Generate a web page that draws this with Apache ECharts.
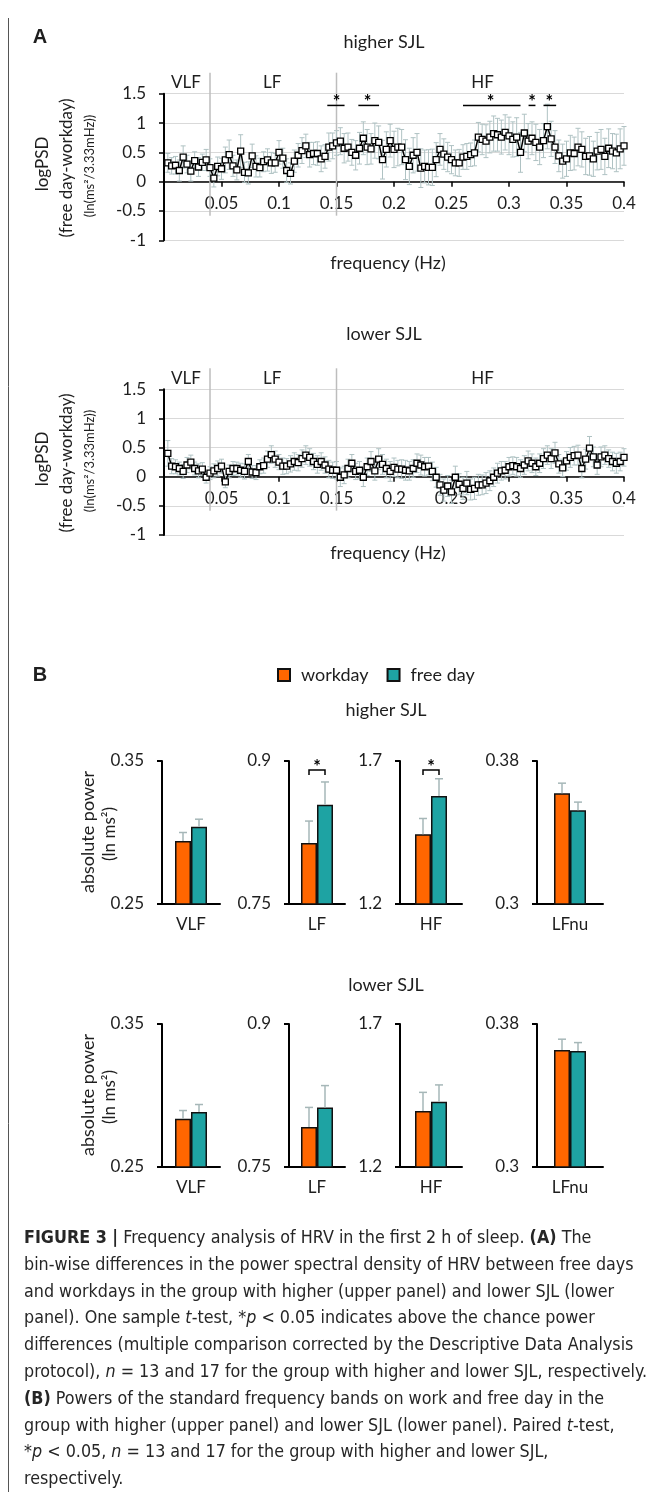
<!DOCTYPE html>
<html><head><meta charset="utf-8">
<script src="https://cdn.jsdelivr.net/npm/echarts@6/dist/echarts.min.js"></script>
<style>
html,body{margin:0;padding:0;background:#fff;}
#chart{position:absolute;left:0;top:0;width:659px;height:1498px;}
#caption{position:absolute;left:24px;top:1224px;font-family:"Liberation Sans Narrow","DejaVu Sans Condensed","Roboto",sans-serif;font-size:17px;color:#262626;line-height:26.8px;transform-origin:0 0;white-space:nowrap;}
#caption div span{display:inline-block;}
</style></head><body>
<div id="chart"></div>
<div id="caption">
<div><span><b>FIGURE 3 |</b> Frequency analysis of HRV in the first 2 h of sleep. <b>(A)</b> The</span></div>
<div><span>bin-wise differences in the power spectral density of HRV between free days</span></div>
<div><span>and workdays in the group with higher (upper panel) and lower SJL (lower</span></div>
<div><span>panel). One sample <i>t</i>-test, *<i>p</i> &lt; 0.05 indicates above the chance power</span></div>
<div><span>differences (multiple comparison corrected by the Descriptive Data Analysis</span></div>
<div><span id="longest">protocol), <i>n</i> = 13 and 17 for the group with higher and lower SJL, respectively.</span></div>
<div><span><b>(B)</b> Powers of the standard frequency bands on work and free day in the</span></div>
<div><span>group with higher (upper panel) and lower SJL (lower panel). Paired <i>t</i>-test,</span></div>
<div><span>*<i>p</i> &lt; 0.05, <i>n</i> = 13 and 17 for the group with higher and lower SJL,</span></div>
<div><span>respectively.</span></div>
</div>
<script>
// ---------------- DATA ----------------
// Panel A: bin-wise logPSD difference (free day - workday), 3.33 mHz bins, 0.0033..0.4 Hz
const binWidthHz = 1 / 300;
const higherSJL_logPSD = [
  0.32,0.27,0.28,0.19,0.42,0.30,0.18,0.36,0.25,0.33, 0.37,0.24,0.06,0.26,0.22,0.37,0.46,0.27,0.20,0.52,
  0.16,0.15,0.44,0.26,0.24,0.34,0.37,0.32,0.32,0.50, 0.40,0.19,0.14,0.35,0.45,0.53,0.61,0.46,0.48,0.48,
  0.39,0.43,0.59,0.61,0.66,0.69,0.57,0.59,0.50,0.45, 0.57,0.74,0.59,0.56,0.70,0.67,0.375,0.55,0.70,0.55,
  0.59,0.59,0.375,0.26,0.45,0.50,0.23,0.26,0.245,0.245, 0.375,0.55,0.47,0.42,0.375,0.32,0.32,0.42,0.43,0.46,
  0.49,0.76,0.72,0.69,0.76,0.82,0.80,0.76,0.84,0.78, 0.72,0.76,0.50,0.83,0.69,0.74,0.67,0.59,0.70,0.94,
  0.73,0.59,0.44,0.35,0.39,0.49,0.48,0.59,0.55,0.43, 0.44,0.39,0.52,0.55,0.43,0.57,0.52,0.49,0.56,0.61
];
const higherSJL_err = [
  0.16,0.14,0.15,0.18,0.19,0.15,0.17,0.15,0.16,0.14, 0.18,0.15,0.15,0.16,0.18,0.22,0.25,0.18,0.17,0.28,
  0.17,0.19,0.20,0.18,0.16,0.17,0.19,0.18,0.16,0.20, 0.17,0.20,0.18,0.19,0.20,0.22,0.20,0.21,0.19,0.20,
  0.22,0.20,0.24,0.22,0.21,0.23,0.25,0.24,0.22,0.25, 0.27,0.28,0.30,0.26,0.30,0.28,0.33,0.30,0.28,0.31,
  0.32,0.30,0.34,0.31,0.30,0.32,0.33,0.28,0.30,0.31, 0.29,0.27,0.26,0.25,0.24,0.22,0.23,0.21,0.22,0.20,
  0.22,0.25,0.26,0.28,0.27,0.30,0.28,0.29,0.30,0.32, 0.30,0.33,0.34,0.32,0.30,0.28,0.31,0.30,0.29,0.38,
  0.30,0.28,0.27,0.29,0.30,0.30,0.28,0.32,0.30,0.31, 0.33,0.30,0.32,0.34,0.31,0.33,0.30,0.32,0.34,0.33
];
const lowerSJL_logPSD = [
  0.40,0.18,0.17,0.14,0.09,0.20,0.25,0.14,0.10,0.13, -0.01,0.06,0.10,0.14,0.18,-0.09,0.09,0.14,0.14,0.11,
  0.09,0.26,0.08,0.07,0.17,0.19,0.30,0.38,0.30,0.25, 0.18,0.18,0.22,0.26,0.24,0.31,0.37,0.33,0.26,0.21,
  0.26,0.20,0.13,0.11,0.11,-0.01,0.03,0.14,0.23,0.09, 0.11,-0.01,0.17,0.26,0.10,0.30,0.21,0.14,0.09,0.16,
  0.13,0.13,0.11,0.10,0.14,0.23,0.20,0.17,0.18,0.09, -0.01,-0.14,-0.23,-0.16,-0.26,-0.01,-0.13,-0.20,-0.11,-0.22,
  -0.20,-0.14,-0.14,-0.11,-0.07,-0.01,0.06,0.10,0.11,0.17, 0.19,0.17,0.14,0.20,0.27,0.23,0.17,0.23,0.31,0.37,
  0.31,0.41,0.22,0.15,0.27,0.33,0.36,0.37,0.14,0.30, 0.49,0.34,0.20,0.34,0.37,0.31,0.26,0.23,0.26,0.33
];
const lowerSJL_err = [
  0.22,0.13,0.12,0.11,0.12,0.13,0.12,0.11,0.12,0.11, 0.10,0.11,0.12,0.13,0.12,0.10,0.11,0.12,0.11,0.12,
  0.13,0.12,0.11,0.12,0.12,0.13,0.14,0.15,0.14,0.13, 0.14,0.13,0.14,0.15,0.14,0.15,0.16,0.15,0.14,0.15,
  0.15,0.14,0.15,0.14,0.15,0.16,0.15,0.16,0.15,0.14, 0.15,0.16,0.15,0.17,0.16,0.18,0.17,0.16,0.17,0.16,
  0.15,0.16,0.17,0.16,0.15,0.16,0.17,0.16,0.15,0.16, 0.17,0.18,0.19,0.18,0.20,0.19,0.18,0.19,0.20,0.18,
  0.19,0.18,0.17,0.18,0.17,0.16,0.17,0.16,0.15,0.16, 0.15,0.16,0.15,0.16,0.17,0.16,0.15,0.16,0.17,0.16,
  0.17,0.18,0.16,0.15,0.16,0.17,0.16,0.17,0.16,0.17, 0.20,0.17,0.16,0.17,0.16,0.15,0.16,0.17,0.16,0.15
];
const bandEdgesHz = [0.04, 0.15];
const bandLabels = ['VLF', 'LF', 'HF'];
const bandLabelHz = [0.019, 0.094, 0.277];
// significant ranges (Hz) in higher SJL: [start, end, star position]
const sigRangesHigher = [[0.142,0.157,0.150],[0.169,0.187,0.177],[0.260,0.310,0.284],[0.317,0.323,0.320],[0.330,0.341,0.335]];
const sigLevel = 1.30;
const yMinA = -1, yMaxA = 1.5;

// Panel B: band powers
const bandNamesB = ['VLF', 'LF', 'HF', 'LFnu'];
const axisMinB = [0.25, 0.75, 1.2, 0.3];
const axisMaxB = [0.35, 0.9, 1.7, 0.38];
const workdayHigher = [0.294, 0.814, 1.444, 0.362];
const workdayHigherErr = [0.006, 0.023, 0.055, 0.0056];
const freedayHigher = [0.304, 0.854, 1.578, 0.3525];
const freedayHigherErr = [0.0053, 0.024, 0.060, 0.0045];
const workdayLower = [0.2837, 0.792, 1.396, 0.3655];
const workdayLowerErr = [0.0058, 0.0205, 0.065, 0.006];
const freedayLower = [0.2884, 0.8124, 1.428, 0.3649];
const freedayLowerErr = [0.0053, 0.023, 0.059, 0.0047];
const sigHigherB = [false, true, true, false];
const sigLowerB = [false, false, false, false];

// ---------------- STYLE / LAYOUT ----------------
const FONT = 'Lato, "Open Sans", "DejaVu Sans", sans-serif';
const TXT = '#1e1e1e';
const ERR_A = '#afc2c3';
const ERR_B = '#a6b7b8';
const ORANGE = '#ff6600';
const TEAL = '#1ea3a3';
const freqs = higherSJL_logPSD.map((_, i) => (i + 1) * binWidthHz);

const gridsA = [
  {left:164, top:93.7, width:460, height:146.6},
  {left:164, top:389.3, width:460, height:145.6}
];
const bLeft = [162, 289, 400, 537];
const bWidth = [58, 56, 62, 66];
const bTop = [761, 1024];
const bHeight = 143;

const grids = [], xAxes = [], yAxes = [], series = [];
gridsA.forEach(g => grids.push(Object.assign({outerBoundsMode:'none', containLabel:false}, g)));
bTop.forEach(t => bLeft.forEach((l, k) => grids.push({left:l, top:t, width:bWidth[k], height:bHeight, outerBoundsMode:'none', containLabel:false})));

const fmt = v => String(+(+v).toFixed(2));

// Panel A axes (x axis line, ticks and labels sit on y = 0)
[0,1].forEach(gi => {
  const zeroOffset = -gridsA[gi].height * (0 - yMinA) / (yMaxA - yMinA);
  xAxes.push({type:'value', gridIndex:gi, min:0, max:0.4, interval:0.05, offset:zeroOffset,
    axisLine:{show:true, onZero:false, lineStyle:{color:'#000', width:1.5}},
    axisTick:{show:true, length:5, lineStyle:{color:'#000', width:1.5}},
    axisLabel:{showMinLabel:false, fontSize:17, fontFamily:FONT, color:TXT, margin:13, formatter:fmt},
    splitLine:{show:false}});
  yAxes.push({type:'value', gridIndex:gi, min:yMinA, max:yMaxA, interval:0.5,
    axisLine:{show:true, lineStyle:{color:'#000', width:2}},
    axisTick:{show:true, length:5, lineStyle:{color:'#000', width:1.5}},
    axisLabel:{fontSize:17, fontFamily:FONT, color:TXT, margin:18, formatter:fmt},
    splitLine:{show:true, lineStyle:{color:'#d9d9d9', width:1}}});
});
// Panel B axes
[0,1].forEach(() => bandNamesB.forEach((name, k) => {
  const gi = xAxes.length;
  xAxes.push({type:'category', gridIndex:gi, data:[name],
    axisLine:{show:true, onZero:false, lineStyle:{color:'#000', width:2}},
    axisTick:{show:false},
    axisLabel:{fontSize:17, fontFamily:FONT, color:TXT, margin:12}});
  yAxes.push({type:'value', gridIndex:gi, min:axisMinB[k], max:axisMaxB[k],
    axisLine:{show:true, lineStyle:{color:'#000', width:2}},
    axisTick:{show:true, length:5, customValues:[axisMinB[k], axisMaxB[k]], lineStyle:{color:'#000', width:2}},
    axisLabel:{customValues:[axisMinB[k], axisMaxB[k]], fontSize:17, fontFamily:FONT, color:TXT, margin:18, formatter:fmt},
    splitLine:{show:false}});
}));

// ---- renderers ----
function errRenderA(params, api) {
  const f = api.value(0), v = api.value(1), e = api.value(2);
  const t = api.coord([f, v + e]), b = api.coord([f, v - e]);
  const cw = 2.5, st = {stroke:ERR_A, lineWidth:1};
  return {type:'group', children:[
    {type:'line', shape:{x1:t[0], y1:t[1], x2:b[0], y2:b[1]}, style:st},
    {type:'line', shape:{x1:t[0]-cw, y1:t[1], x2:t[0]+cw, y2:t[1]}, style:st},
    {type:'line', shape:{x1:b[0]-cw, y1:b[1], x2:b[0]+cw, y2:b[1]}, style:st}
  ]};
}
function bandLineRender(params, api) {
  const f = api.value(0);
  const top = api.coord([f, yMaxA]), zero = api.coord([f, 0]);
  return {type:'line', shape:{x1:top[0], y1:top[1]-21, x2:zero[0], y2:zero[1]+34},
    style:{stroke:'#bdbdbd', lineWidth:1.5}};
}
function bandLabelRender(params, api) {
  const p = api.coord([api.value(0), yMaxA]);
  return {type:'text', x:p[0], y:p[1]-11,
    style:{text:bandLabels[params.dataIndex], fill:TXT, font:'17px ' + FONT, textAlign:'center', textVerticalAlign:'middle'}};
}
function sigRenderA(params, api) {
  const a = api.coord([api.value(0), sigLevel]), b = api.coord([api.value(1), sigLevel]), s = api.coord([api.value(2), sigLevel]);
  return {type:'group', children:[
    {type:'line', shape:{x1:a[0], y1:a[1], x2:b[0], y2:b[1]}, style:{stroke:'#000', lineWidth:1.5}},
    {type:'text', x:s[0], y:s[1]-3, style:{text:'*', fill:'#000', font:'bold 18px ' + FONT, textAlign:'center', textVerticalAlign:'middle'}}
  ]};
}
function errRenderB(params, api) {
  const c = api.coord([api.value(0), api.value(1)]);
  const t = api.coord([api.value(0), api.value(1) + api.value(2)]);
  const x = c[0] + api.value(3) * 8;
  const st = {stroke:ERR_B, lineWidth:1.5};
  return {type:'group', children:[
    {type:'line', shape:{x1:x, y1:c[1], x2:x, y2:t[1]}, style:st},
    {type:'line', shape:{x1:x-4, y1:t[1], x2:x+4, y2:t[1]}, style:st}
  ]};
}
function bracketRender(params, api) {
  const top = api.coord([api.value(0), api.value(1)]);
  const xl = top[0] - 8, xr = top[0] + 8, y = top[1] + 9;
  return {type:'group', children:[
    {type:'polyline', shape:{points:[[xl, y+5],[xl, y],[xr, y],[xr, y+5]]}, style:{stroke:'#000', lineWidth:1.5, fill:null}},
    {type:'text', x:top[0], y:top[1]+6, style:{text:'*', fill:'#000', font:'bold 18px ' + FONT, textAlign:'center', textVerticalAlign:'middle'}}
  ]};
}

// ---- Panel A series ----
[[higherSJL_logPSD, higherSJL_err, true], [lowerSJL_logPSD, lowerSJL_err, false]].forEach(([vals, errs, sig], gi) => {
  const ax = {xAxisIndex:gi, yAxisIndex:gi};
  series.push(Object.assign({type:'custom', z:1, clip:false, silent:true, encode:{x:0, y:1},
    data: bandEdgesHz.map(f => [f, 0]), renderItem: bandLineRender}, ax));
  series.push(Object.assign({type:'custom', z:1, clip:false, silent:true, encode:{x:0, y:1},
    data: bandLabelHz.map(f => [f, yMaxA]), renderItem: bandLabelRender}, ax));
  series.push(Object.assign({type:'custom', z:2, clip:false, silent:true, encode:{x:0, y:1},
    data: vals.map((v, i) => [freqs[i], v, errs[i]]), renderItem: errRenderA}, ax));
  series.push(Object.assign({type:'line', z:3, silent:true, data: vals.map((v, i) => [freqs[i], v]),
    symbol:'rect', symbolSize:6, showAllSymbol:true,
    itemStyle:{color:'#fff', borderColor:'#000', borderWidth:1.3},
    lineStyle:{color:'#000', width:1.5}}, ax));
  if (sig) series.push(Object.assign({type:'custom', z:4, clip:false, silent:true, encode:{x:0, y:1},
    data: sigRangesHigher.map(r => [r[0], r[1], r[2]]), renderItem: sigRenderA}, ax));
});

// ---- Panel B series ----
[[workdayHigher, workdayHigherErr, freedayHigher, freedayHigherErr, sigHigherB],
 [workdayLower, workdayLowerErr, freedayLower, freedayLowerErr, sigLowerB]].forEach(([w, we, f, fe, sg], p) => {
  bandNamesB.forEach((name, k) => {
    const gi = 2 + p * 4 + k;
    const ax = {xAxisIndex:gi, yAxisIndex:gi};
    series.push(Object.assign({type:'bar', name:'workday', data:[w[k]], barWidth:16, barGap:'0%', z:2, silent:true,
      itemStyle:{color:ORANGE, borderColor:'#111', borderWidth:1.5}}, ax));
    series.push(Object.assign({type:'bar', name:'free day', data:[f[k]], barWidth:16, barGap:'0%', z:2, silent:true,
      itemStyle:{color:TEAL, borderColor:'#111', borderWidth:1.5}}, ax));
    series.push(Object.assign({type:'custom', z:3, clip:false, silent:true, encode:{x:0, y:1},
      data:[[0, w[k], we[k], -1], [0, f[k], fe[k], 1]], renderItem: errRenderB}, ax));
    if (sg[k]) series.push(Object.assign({type:'custom', z:4, clip:false, silent:true, encode:{x:0, y:1},
      data:[[0, axisMaxB[k]]], renderItem: bracketRender}, ax));
  });
});

// ---- texts ----
function txt(x, y, text, font, rot) {
  return {type:'text', x:x, y:y, rotation: rot ? Math.PI/2 : 0, silent:true,
    style:{text:text, fill:TXT, font:font, textAlign:'center', textVerticalAlign:'middle'}};
}
const graphics = [
  {type:'line', shape:{x1:8.5, y1:18, x2:8.5, y2:1492}, style:{stroke:'#555', lineWidth:1}, silent:true},
  txt(40, 37, 'A', 'bold 20px "Liberation Sans", Arial, sans-serif'),
  txt(40, 675, 'B', 'bold 20px "Liberation Sans", Arial, sans-serif'),
  txt(384, 42, 'higher SJL', '18px ' + FONT),
  txt(384, 334, 'lower SJL', '18px ' + FONT),
  txt(388, 263, 'frequency (Hz)', '18px ' + FONT),
  txt(388, 553, 'frequency (Hz)', '18px ' + FONT),
  txt(43, 164, 'logPSD', '17px ' + FONT, true),
  txt(67, 168, '(free day-workday)', '17px ' + FONT, true),
  txt(90, 166, '(ln(ms²/3.33mHz))', '13px ' + FONT, true),
  txt(43, 459, 'logPSD', '17px ' + FONT, true),
  txt(67, 463, '(free day-workday)', '17px ' + FONT, true),
  txt(90, 461, '(ln(ms²/3.33mHz))', '13px ' + FONT, true),
  txt(386, 710, 'higher SJL', '18px ' + FONT),
  txt(386, 985, 'lower SJL', '18px ' + FONT),
  txt(88, 832, 'absolute power', '18px ' + FONT, true),
  txt(110, 834, '(ln ms²)', '17px ' + FONT, true),
  txt(88, 1095, 'absolute power', '18px ' + FONT, true),
  txt(110, 1097, '(ln ms²)', '17px ' + FONT, true)
];

const chart = echarts.init(document.getElementById('chart'), null, {renderer:'canvas'});
chart.setOption({
  animation:false,
  backgroundColor:'#fff',
  textStyle:{fontFamily:FONT},
  legend:{data:['workday','free day'], left:272, top:661, icon:'rect', itemWidth:12, itemHeight:12, itemGap:18,
    selectedMode:false, textStyle:{fontSize:18, fontFamily:FONT, color:TXT, padding:[0,0,0,6]}},
  grid:grids, xAxis:xAxes, yAxis:yAxes, series:series, graphic:graphics
});

function fitCaption(){
  const cap = document.getElementById('caption');
  cap.style.transform = 'none';
  const w = document.getElementById('longest').getBoundingClientRect().width;
  if (w > 0) cap.style.transform = 'scaleX(' + (623 / w) + ')';
}
fitCaption();
if (document.fonts && document.fonts.ready) document.fonts.ready.then(fitCaption);
</script>
</body></html>
